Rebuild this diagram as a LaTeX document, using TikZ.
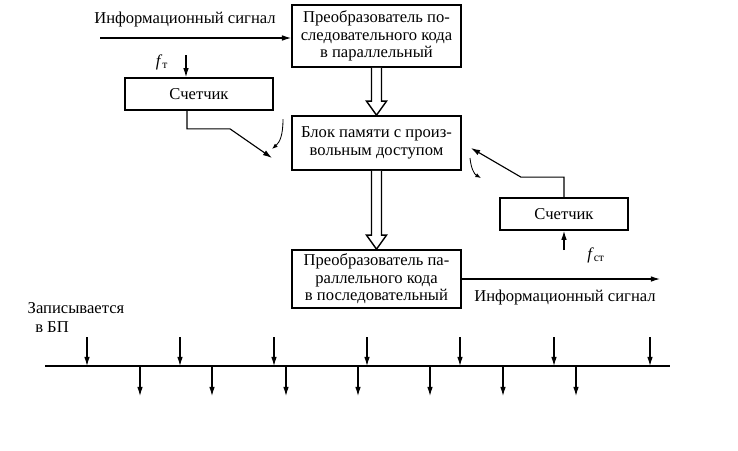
\documentclass[tikz,border=0pt]{standalone}
\usepackage{fontspec}
\setmainfont{Liberation Serif}
\usetikzlibrary{arrows.meta,positioning,calc}

% hollow (block) arrow from the bottom of one box to the top of another
\newcommand{\hollowarrow}[2]{%
  \draw[line width=1pt, fill=white]
    ($(#1.south)+(-5,0)$) -- ($(#2.north)+(-5,-14)$) -- ($(#2.north)+(-10,-14)$)
    -- (#2.north) -- ($(#2.north)+(10,-14)$) -- ($(#2.north)+(5,-14)$)
    -- ($(#1.south)+(5,0)$);}

\begin{document}
\begin{tikzpicture}[x=0.025cm, y=-0.025cm, >={Latex[length=6.5pt,width=4pt]},
    font=\fontsize{11.8}{12.5}\selectfont,
    block/.style={rectangle, draw, line width=1.2pt, align=center, inner sep=1pt},
    wire/.style={->, line width=0.8pt},
    squiggle/.style={-{Latex[length=4pt,width=3pt]}, line width=0.6pt}]
    \useasboundingbox (0,0) rectangle (738,450);

    % blocks
    \node[block, minimum width=4.225cm, minimum height=1.55cm] (conv1) at (376.5,36)
        {Преобразователь по-\\следовательного кода\\в параллельный};
    \node[block, minimum width=4.225cm, minimum height=1.35cm] (mem) at (376.5,143)
        {Блок памяти с произ-\\вольным доступом};
    \node[block, minimum width=4.225cm, minimum height=1.45cm] (conv2) at (376.5,279)
        {Преобразователь па-\\раллельного кода\\в последовательный};
    \node[block, minimum width=3.7cm, minimum height=0.8cm] (cnt1) at (199,94) {Счетчик};
    \node[block, minimum width=3.2cm, minimum height=0.8cm] (cnt2) at (564,214) {Счетчик};

    \hollowarrow{conv1}{mem}
    \hollowarrow{mem}{conv2}

    % input signal
    \coordinate (sigin) at (100,38);
    \node (lblin) at (185,20) {Информационный сигнал};
    \draw[wire] (sigin) -- (sigin -| conv1.west);

    % write counter
    \coordinate (ft) at (186,55);
    \node (lblft) at (162,62) {\textit{f}\textsubscript{т}};
    \draw[wire] (ft) -- (ft |- cnt1.north);
    \coordinate (wr) at (272,158);
    \draw[wire] ($(cnt1.south)+(-12,0)$) -- ++(0,18) -- ++(43,0) -- (wr);
    \coordinate (sq1) at (283,119);
    \draw[squiggle] (sq1) .. controls (283,135) and (280,142) .. (272,149);

    % read counter
    \coordinate (rd) at (471,148);
    \draw[wire] (cnt2.north) -- ++(0,-20) -- ++(-43,0) -- (rd);
    \coordinate (sq2) at (470,158);
    \draw[squiggle] (sq2) .. controls (471,168) and (474,174) .. (481,178);
    \coordinate (fst) at (564,250);
    \node (lblfst) at (596,255) {\textit{f}\textsubscript{ст}};
    \draw[wire] (fst) -- (cnt2.south);

    % output signal
    \coordinate (sigout) at (660,279);
    \draw[wire] (conv2.east) -- (sigout);
    \node (lblout) at (565,298) {Информационный сигнал};

    % time line
    \node (lblwr) at (76,308) {Записывается};
    \node (lblbp) at (52,327) {в БП};
    \coordinate (t0) at (45,366);
    \coordinate (t1) at (670,366);
    \draw[line width=0.9pt] (t0) -- (t1);
    \foreach \x in {87,180,274,367,460,554,650}
        \draw[wire] (\x,337) -- (\x,366);
    \foreach \x in {140,212,286,358,430,503,576}
        \draw[wire] (\x,367) -- (\x,396);
\end{tikzpicture}
\end{document}
